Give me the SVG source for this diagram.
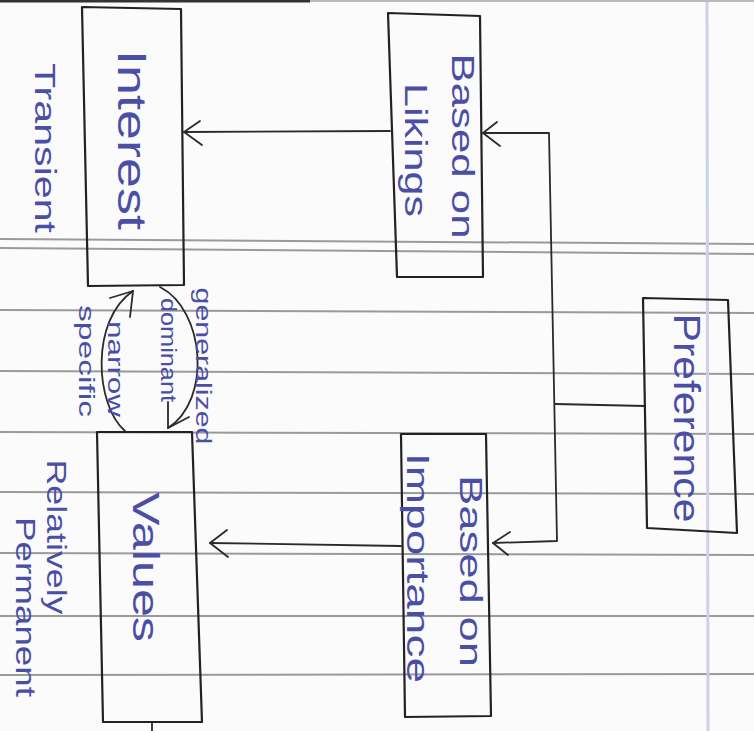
<svg xmlns="http://www.w3.org/2000/svg" width="754" height="731" viewBox="0 0 754 731">
<style>
.paper{stroke:#9a9a9a;stroke-width:2;fill:none}
.box{fill:none;stroke:#222;stroke-width:2.2;stroke-linejoin:round}
.ln{fill:none;stroke:#2a2a2a;stroke-width:1.8;stroke-linecap:round;stroke-linejoin:round}
.t{font-family:"Liberation Sans","DejaVu Sans",sans-serif;fill:#4a4fa6;text-anchor:middle;dominant-baseline:central}
</style>
<rect width="754" height="731" fill="#fbfbfb"/>
<g id="paper">
<line class="paper" x1="0" y1="239" x2="754" y2="244"/>
<line class="paper" x1="0" y1="248" x2="754" y2="254"/>
<line class="paper" x1="0" y1="310" x2="754" y2="313"/>
<line class="paper" x1="0" y1="371" x2="754" y2="374"/>
<line class="paper" x1="0" y1="432" x2="754" y2="434"/>
<line class="paper" x1="0" y1="492" x2="754" y2="494"/>
<line class="paper" x1="0" y1="553" x2="754" y2="555"/>
<line class="paper" x1="0" y1="616" x2="754" y2="616"/>
<line class="paper" x1="0" y1="675" x2="754" y2="674"/>
<line x1="707" y1="0" x2="708" y2="731" stroke="#cdd0ea" stroke-width="3"/>
<line x1="0" y1="1" x2="310" y2="1" stroke="#333" stroke-width="3"/>
<line x1="310" y1="1" x2="754" y2="1" stroke="#bbb" stroke-width="2"/>
</g>
<g id="connectors">
<path class="ln" d="M390,131 L184,132"/>
<path class="ln" d="M200,121 L184,132 L202,145"/>
<path class="ln" d="M483,133 L549,133 L557,541 L493,543"/>
<path class="ln" d="M497,122 L483,133 L500,146"/>
<path class="ln" d="M510,532 L493,543 L508,555"/>
<path class="ln" d="M555,404 L645,406"/>
<path class="ln" d="M401,546 L210,543"/>
<path class="ln" d="M227,530 L210,543 L228,557"/>
<path class="ln" d="M125,431 C95,405 90,320 133,291"/>
<path class="ln" d="M110,298 L133,291 L130,317"/>
<path class="ln" d="M160,287 C205,310 212,400 168,428"/>
<path class="ln" d="M168,402 L168,428 L189,417"/>
<path class="ln" d="M152,722 L152,731"/>
</g>
<g id="interest">
<path class="box" d="M82,7 L181,9 L184,285 L88,286 Z"/>
<text class="t" font-size="40" textLength="180" lengthAdjust="spacingAndGlyphs" transform="translate(132,140) rotate(90)">Interest</text>
</g>
<g id="transient">
<text class="t" font-size="30" textLength="170" lengthAdjust="spacingAndGlyphs" transform="translate(45,148) rotate(90)">Transient</text>
</g>
<g id="likings">
<path class="box" d="M388,13 L480,16 L483,277 L397,277 Z"/>
<text class="t" font-size="32" textLength="185" lengthAdjust="spacingAndGlyphs" transform="translate(463,146) rotate(90)">Based on</text>
<text class="t" font-size="32" textLength="134" lengthAdjust="spacingAndGlyphs" transform="translate(416,150) rotate(90)">Likings</text>
</g>
<g id="preference">
<path class="box" d="M643,298 L728,300 L737,533 L647,528 Z"/>
<text class="t" font-size="36" textLength="209" lengthAdjust="spacingAndGlyphs" transform="translate(686,418) rotate(90)">Preference</text>
</g>
<g id="importance">
<path class="box" d="M401,434 L486,434 L491,716 L405,717 Z"/>
<text class="t" font-size="32" textLength="192" lengthAdjust="spacingAndGlyphs" transform="translate(471,571) rotate(90)">Based on</text>
<text class="t" font-size="32" textLength="230" lengthAdjust="spacingAndGlyphs" transform="translate(418,568) rotate(90)">Importance</text>
</g>
<g id="values">
<path class="box" d="M97,432 L192,432 L202,722 L103,722 Z"/>
<text class="t" font-size="36" textLength="150" lengthAdjust="spacingAndGlyphs" transform="translate(145,567) rotate(90)">Values</text>
</g>
<g id="relatively">
<text class="t" font-size="28" textLength="155" lengthAdjust="spacingAndGlyphs" transform="translate(56,537) rotate(90)">Relatively</text>
<text class="t" font-size="28" textLength="180" lengthAdjust="spacingAndGlyphs" transform="translate(25,607) rotate(90)">Permanent</text>
</g>
<g id="arc-labels">
<text class="t" font-size="22" textLength="96" lengthAdjust="spacingAndGlyphs" transform="translate(115,369) rotate(90)">narrow</text>
<text class="t" font-size="22" textLength="112" lengthAdjust="spacingAndGlyphs" transform="translate(86,361) rotate(90)">specific</text>
<text class="t" font-size="22" textLength="104" lengthAdjust="spacingAndGlyphs" transform="translate(168,350) rotate(90)">dominant</text>
<text class="t" font-size="22" textLength="157" lengthAdjust="spacingAndGlyphs" transform="translate(203,366) rotate(90)">generalized</text>
</g>
</svg>
